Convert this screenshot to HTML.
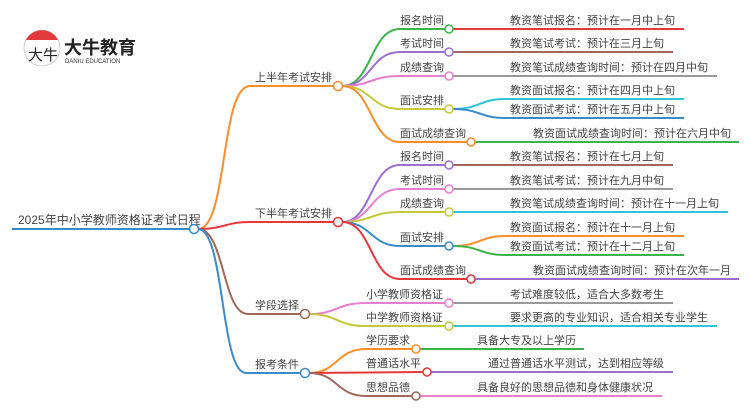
<!DOCTYPE html>
<html><head><meta charset="utf-8"><style>
html,body{margin:0;padding:0;background:#fff;width:750px;height:410px;overflow:hidden}
svg text{font-family:"Liberation Sans","Noto Sans CJK SC",sans-serif;fill:#444;font-size:11px}
</style></head><body>
<svg width="750" height="410" viewBox="0 0 750 410" xmlns="http://www.w3.org/2000/svg" fill="none" stroke-width="2">
<!-- logo -->
<circle cx="42" cy="48" r="18" fill="#fff" stroke="#ccc" stroke-width="1"/>
<path d="M26,40 A18,18 0 0 1 58,40 Z" fill="#e4393c" stroke="none"/>
<text x="28" y="60" style="font-size:15px;fill:#222" stroke="none">大牛</text>
<text x="64" y="54" style="font-size:18px;font-weight:bold;fill:#222" stroke="none">大牛教育</text>
<text x="65" y="63" style="font-size:6px;fill:#333" stroke="none">DANIU EDUCATION</text>

<!-- root -->
<path d="M12,229 L190,229" stroke="#3a8bcd"/>
<text x="18" y="224" style="font-size:12px">2025年中小学教师资格证考试日程</text>
<!-- level1 -->
<path d="M198,229 C228,229 220,86 250,86 L334,86" stroke="#f98e2b"/>
<path d="M198,229 C225,229 225,222 250,222 L334,222" stroke="#e4393c"/>
<path d="M198,229 C225,229 222,314 248,314 L301,314" stroke="#a0675a"/>
<path d="M198,229 C225,229 220,373 246,373 L301,373" stroke="#3a8bcd"/>
<text x="255" y="81">上半年考试安排</text>
<text x="255" y="217">下半年考试安排</text>
<text x="255" y="309">学段选择</text>
<text x="255" y="368">报考条件</text>

<!-- upper level2 -->
<path d="M342,86 C372,86 370,29 400,29 L445,29" stroke="#3bb54a"/>
<path d="M342,86 C372,86 370,52 400,52 L445,52" stroke="#9b6fd1"/>
<path d="M342,86 C372,86 370,76 400,76 L445,76" stroke="#e87ed0"/>
<path d="M342,86 C372,86 370,109 400,109 L445,109" stroke="#c5c83a"/>
<path d="M342,86 C372,86 370,142 400,142 L467,142" stroke="#f98e2b"/>
<path d="M453,29 L684,29" stroke="#e4393c"/>
<path d="M453,52 L673,52" stroke="#a0675a"/>
<path d="M453,76 L717,76" stroke="#999"/>
<path d="M453,109 C480,109 480,99 505,99 L684,99" stroke="#2ec5d9"/>
<path d="M453,109 C480,109 480,118 505,118 L684,118" stroke="#3a8bcd"/>
<path d="M475,142 L739,142" stroke="#3bb54a"/>
<text x="400" y="24">报名时间</text>
<text x="400" y="47">考试时间</text>
<text x="400" y="71">成绩查询</text>
<text x="400" y="104">面试安排</text>
<text x="400" y="137">面试成绩查询</text>
<text x="510" y="24">教资笔试报名：预计在一月中上旬</text>
<text x="510" y="47">教资笔试考试：预计在三月上旬</text>
<text x="510" y="71">教资笔试成绩查询时间：预计在四月中旬</text>
<text x="510" y="94">教资面试报名：预计在四月中上旬</text>
<text x="510" y="113">教资面试考试：预计在五月中上旬</text>
<text x="533" y="137">教资面试成绩查询时间：预计在六月中旬</text>

<!-- lower level2 -->
<path d="M342,222 C372,222 370,165 400,165 L445,165" stroke="#9b6fd1"/>
<path d="M342,222 C372,222 370,189 400,189 L445,189" stroke="#e87ed0"/>
<path d="M342,222 C372,222 370,212 400,212 L445,212" stroke="#c5c83a"/>
<path d="M342,222 C372,222 370,246 400,246 L445,246" stroke="#3a8bcd"/>
<path d="M342,222 C372,222 370,279 400,279 L467,279" stroke="#e4393c"/>
<path d="M453,165 L673,165" stroke="#a0675a"/>
<path d="M453,189 L673,189" stroke="#999"/>
<path d="M453,212 L728,212" stroke="#2ec5d9"/>
<path d="M453,246 C480,246 480,236 505,236 L684,236" stroke="#f98e2b"/>
<path d="M453,246 C480,246 480,255 505,255 L684,255" stroke="#3bb54a"/>
<path d="M475,279 L739,279" stroke="#9b6fd1"/>
<text x="400" y="160">报名时间</text>
<text x="400" y="184">考试时间</text>
<text x="400" y="207">成绩查询</text>
<text x="400" y="241">面试安排</text>
<text x="400" y="274">面试成绩查询</text>
<text x="510" y="160">教资笔试报名：预计在七月上旬</text>
<text x="510" y="184">教资笔试考试：预计在九月中旬</text>
<text x="510" y="207">教资笔试成绩查询时间：预计在十一月上旬</text>
<text x="510" y="231">教资面试报名：预计在十一月上旬</text>
<text x="510" y="250">教资面试考试：预计在十二月上旬</text>
<text x="533" y="274">教资面试成绩查询时间：预计在次年一月</text>

<!-- 学段 -->
<path d="M309,314 C338,314 336,303 366,303 L445,303" stroke="#e87ed0"/>
<path d="M309,314 C338,314 336,326 366,326 L445,326" stroke="#c5c83a"/>
<path d="M453,303 L673,303" stroke="#999"/>
<path d="M453,326 L717,326" stroke="#2ec5d9"/>
<text x="366" y="298">小学教师资格证</text>
<text x="366" y="321">中学教师资格证</text>
<text x="510" y="298">考试难度较低，适合大多数考生</text>
<text x="510" y="321">要求更高的专业知识，适合相关专业学生</text>

<!-- 报考 -->
<path d="M309,373 C338,373 336,349 366,349 L412,349" stroke="#f98e2b"/>
<path d="M309,373 L423,372" stroke="#e4393c"/>
<path d="M309,373 C338,373 336,396 366,396 L412,396" stroke="#a0675a"/>
<path d="M420,349 L584,349" stroke="#3bb54a"/>
<path d="M431,372 L673,372" stroke="#9b6fd1"/>
<path d="M420,396 L662,396" stroke="#e87ed0"/>
<text x="366" y="344">学历要求</text>
<text x="366" y="367">普通话水平</text>
<text x="366" y="391">思想品德</text>
<text x="477" y="344">具备大专及以上学历</text>
<text x="488" y="367">通过普通话水平测试，达到相应等级</text>
<text x="477" y="391">具备良好的思想品德和身体健康状况</text>

<!-- circles -->
<g fill="#fff" stroke-width="1.5">
<circle cx="194" cy="229" r="4.5" stroke="#3a8bcd"/>
<circle cx="338" cy="86" r="4.5" stroke="#f98e2b"/>
<circle cx="338" cy="222" r="4.5" stroke="#e4393c"/>
<circle cx="305" cy="314" r="4.5" stroke="#a0675a"/>
<circle cx="305" cy="373" r="4.5" stroke="#3a8bcd"/>
<circle cx="449" cy="29" r="4" stroke="#3bb54a"/>
<circle cx="449" cy="52" r="4" stroke="#9b6fd1"/>
<circle cx="449" cy="76" r="4" stroke="#e87ed0"/>
<circle cx="449" cy="109" r="4" stroke="#c5c83a"/>
<circle cx="471" cy="142" r="4" stroke="#f98e2b"/>
<circle cx="449" cy="165" r="4" stroke="#9b6fd1"/>
<circle cx="449" cy="189" r="4" stroke="#e87ed0"/>
<circle cx="449" cy="212" r="4" stroke="#c5c83a"/>
<circle cx="449" cy="246" r="4" stroke="#3a8bcd"/>
<circle cx="471" cy="279" r="4" stroke="#e4393c"/>
<circle cx="449" cy="303" r="4" stroke="#e87ed0"/>
<circle cx="449" cy="326" r="4" stroke="#c5c83a"/>
<circle cx="416" cy="349" r="4" stroke="#f98e2b"/>
<circle cx="427" cy="372" r="4" stroke="#e4393c"/>
<circle cx="416" cy="396" r="4" stroke="#a0675a"/>
</g>
</svg>
</body></html>
